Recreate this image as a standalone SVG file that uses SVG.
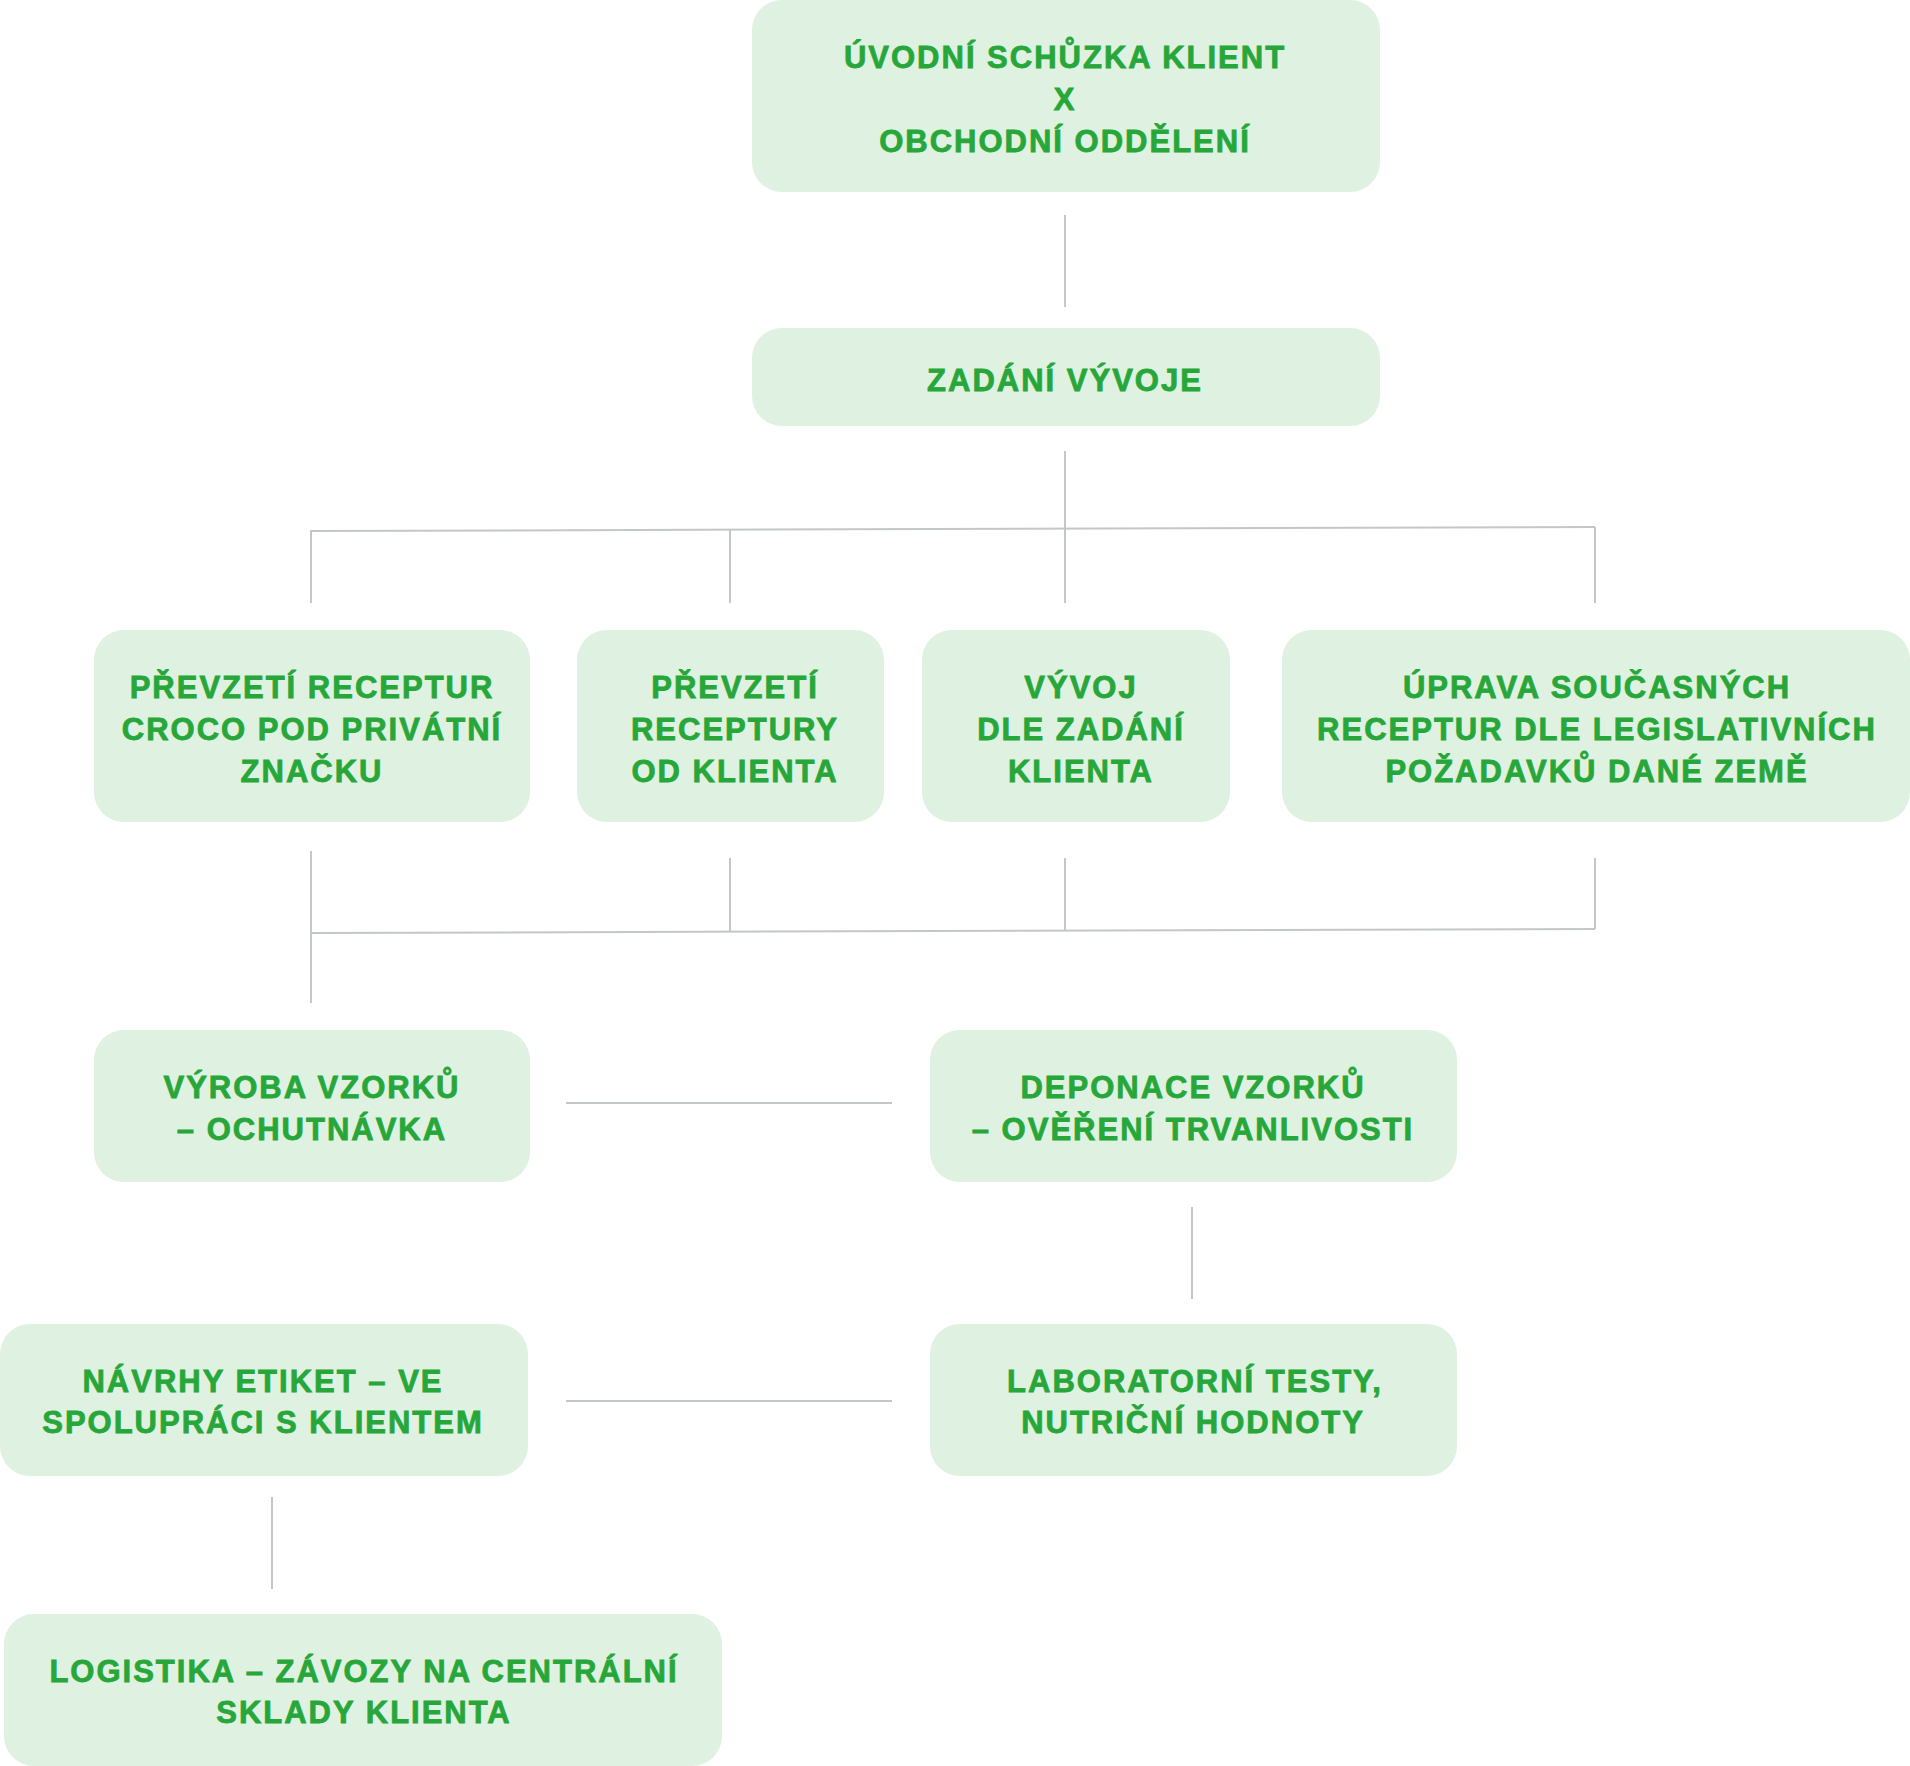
<svg xmlns="http://www.w3.org/2000/svg" width="1910" height="1766" viewBox="0 0 1910 1766">
<style>
.box{fill:#dff1e1}
.t{font-family:"Liberation Sans",Arial,sans-serif;font-weight:bold;font-size:31px;fill:#27a73a;stroke:#27a73a;stroke-width:0.8px;text-anchor:middle;letter-spacing:2px}
.c{stroke:#c3c7c5;stroke-width:2;fill:none}
</style>
<rect width="1910" height="1766" fill="#ffffff"/>
<g id="connectors">
<line class="c" x1="1065" y1="215" x2="1065" y2="307"/>
<line class="c" x1="1065" y1="451" x2="1065" y2="603"/>
<line class="c" x1="310" y1="531" x2="1595" y2="527"/>
<line class="c" x1="311" y1="531" x2="311" y2="603"/>
<line class="c" x1="730" y1="530" x2="730" y2="603"/>
<line class="c" x1="1595" y1="527" x2="1595" y2="603"/>
<line class="c" x1="311" y1="851" x2="311" y2="1003"/>
<line class="c" x1="730" y1="858" x2="730" y2="932"/>
<line class="c" x1="1065" y1="858" x2="1065" y2="931"/>
<line class="c" x1="1595" y1="858" x2="1595" y2="929"/>
<line class="c" x1="310" y1="933" x2="1595" y2="929"/>
<line class="c" x1="566" y1="1103" x2="892" y2="1103"/>
<line class="c" x1="1192" y1="1207" x2="1192" y2="1299"/>
<line class="c" x1="566" y1="1401" x2="892" y2="1401"/>
<line class="c" x1="272" y1="1497" x2="272" y2="1589"/>
</g>
<g id="n1"><rect class="box" x="752" y="0" width="628" height="192" rx="30"/>
<text class="t" x="1065" y="68">ÚVODNÍ SCHŮZKA KLIENT</text>
<text class="t" x="1065" y="110">X</text>
<text class="t" x="1065" y="152">OBCHODNÍ ODDĚLENÍ</text></g>
<g id="n2"><rect class="box" x="752" y="328" width="628" height="98" rx="30"/>
<text class="t" x="1065" y="391">ZADÁNÍ VÝVOJE</text></g>
<g id="n3"><rect class="box" x="94" y="630" width="436" height="192" rx="30"/>
<text class="t" x="312" y="698">PŘEVZETÍ RECEPTUR</text>
<text class="t" x="312" y="740">CROCO POD PRIVÁTNÍ</text>
<text class="t" x="312" y="782">ZNAČKU</text></g>
<g id="n4"><rect class="box" x="577" y="630" width="307" height="192" rx="30"/>
<text class="t" x="735" y="698">PŘEVZETÍ</text>
<text class="t" x="735" y="740">RECEPTURY</text>
<text class="t" x="735" y="782">OD KLIENTA</text></g>
<g id="n5"><rect class="box" x="922" y="630" width="308" height="192" rx="30"/>
<text class="t" x="1081" y="698">VÝVOJ</text>
<text class="t" x="1081" y="740">DLE ZADÁNÍ</text>
<text class="t" x="1081" y="782">KLIENTA</text></g>
<g id="n6"><rect class="box" x="1282" y="630" width="628" height="192" rx="30"/>
<text class="t" x="1597" y="698">ÚPRAVA SOUČASNÝCH</text>
<text class="t" x="1597" y="740">RECEPTUR DLE LEGISLATIVNÍCH</text>
<text class="t" x="1597" y="782">POŽADAVKŮ DANÉ ZEMĚ</text></g>
<g id="n7"><rect class="box" x="94" y="1030" width="436" height="152" rx="30"/>
<text class="t" x="312" y="1098">VÝROBA VZORKŮ</text>
<text class="t" x="312" y="1140">– OCHUTNÁVKA</text></g>
<g id="n8"><rect class="box" x="930" y="1030" width="527" height="152" rx="30"/>
<text class="t" x="1193" y="1098">DEPONACE VZORKŮ</text>
<text class="t" x="1193" y="1140">– OVĚŘENÍ TRVANLIVOSTI</text></g>
<g id="n9"><rect class="box" x="0" y="1324" width="528" height="152" rx="30"/>
<text class="t" x="263" y="1392">NÁVRHY ETIKET – VE</text>
<text class="t" x="263" y="1433">SPOLUPRÁCI S KLIENTEM</text></g>
<g id="n10"><rect class="box" x="930" y="1324" width="527" height="152" rx="30"/>
<text class="t" x="1195" y="1392">LABORATORNÍ TESTY,</text>
<text class="t" x="1193" y="1433">NUTRIČNÍ HODNOTY</text></g>
<g id="n11"><rect class="box" x="4" y="1614" width="718" height="152" rx="30"/>
<text class="t" x="364" y="1682">LOGISTIKA – ZÁVOZY NA CENTRÁLNÍ</text>
<text class="t" x="364" y="1723">SKLADY KLIENTA</text></g>
</svg>
